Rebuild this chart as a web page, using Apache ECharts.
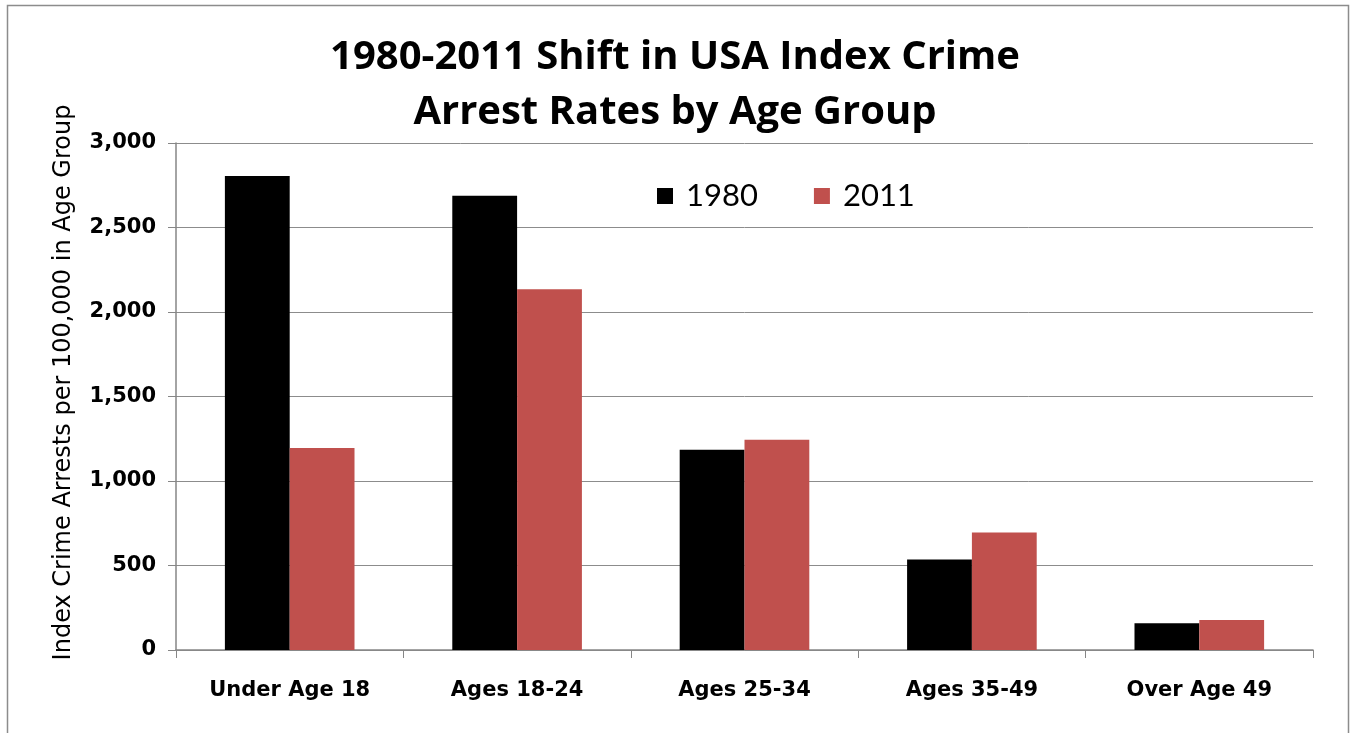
<!DOCTYPE html>
<html>
<head>
<meta charset="utf-8">
<script src="https://cdn.jsdelivr.net/npm/echarts@6/dist/echarts.min.js"></script>
<style>
html,body{margin:0;padding:0;background:#fff;}
#c{width:1350px;height:733px;}
</style>
</head>
<body>
<div id="c"></div>
<script>
const categories = ['Under Age 18', 'Ages 18-24', 'Ages 25-34', 'Ages 35-49', 'Over Age 49'];
const values1980 = [2805, 2688, 1185, 536, 159];
const values2011 = [1196, 2134, 1244, 695, 177];
const seriesNames = ['1980', '2011'];
const yTicks = [0, 500, 1000, 1500, 2000, 2500, 3000];

const chart = echarts.init(document.getElementById('c'));
const labelFont = '"DejaVu Sans", sans-serif';
chart.setOption({
  animation: false,
  backgroundColor: '#fff',
  graphic: [{
    type: 'rect', left: 5, top: 3,
    shape: {width: 1341, height: 740},
    style: {fill: 'none', stroke: '#8c8c8c', lineWidth: 1.5},
    silent: true
  }],
  title: {
    text: '1980-2011 Shift in USA Index Crime\nArrest Rates by Age Group',
    left: 'center', top: 25,
    textStyle: {fontFamily: '"Open Sans", sans-serif', fontWeight: 'bold', fontSize: 40, lineHeight: 55, color: '#000'}
  },
  legend: {
    top: 175, left: 652,
    itemWidth: 16, itemHeight: 16, itemGap: 56,
    icon: 'rect',
    textStyle: {fontFamily: 'Lato, sans-serif', fontSize: 31, lineHeight: 32, color: '#000', padding: [0,0,0,8]},
    data: seriesNames
  },
  grid: {left: 176, right: 37, top: 143, bottom: 83, containLabel: false},
  xAxis: {
    type: 'category', data: categories,
    axisLine: {lineStyle: {color: '#868686', width: 1.5}},
    axisTick: {show: true, length: 8, lineStyle: {color: '#868686'}},
    axisLabel: {fontFamily: labelFont, fontWeight: 'bold', fontSize: 21, color: '#000', margin: 30}
  },
  yAxis: {
    type: 'value', min: 0, max: 3000, interval: 500,
    name: 'Index Crime Arrests per 100,000 in Age Group',
    nameLocation: 'middle', nameGap: 100,
    nameTextStyle: {fontFamily: labelFont, fontSize: 24, color: '#000', padding: [0,0,0,28]},
    axisLine: {show: true, lineStyle: {color: '#868686', width: 1.5}},
    axisTick: {show: true, length: 8, lineStyle: {color: '#868686'}},
    splitLine: {lineStyle: {color: '#8c8c8c', width: 1}},
    axisLabel: {
      fontFamily: labelFont, fontWeight: 'bold', fontSize: 21, color: '#000', margin: 20,
      formatter: v => yTicks.includes(v) ? v.toLocaleString('en-US') : ''
    }
  },
  series: [
    {name: seriesNames[0], type: 'bar', data: values1980, itemStyle: {color: '#000'}, barGap: '0%', barCategoryGap: '43%'},
    {name: seriesNames[1], type: 'bar', data: values2011, itemStyle: {color: '#C0504D'}, barGap: '0%', barCategoryGap: '43%'}
  ]
});
</script>
</body>
</html>
